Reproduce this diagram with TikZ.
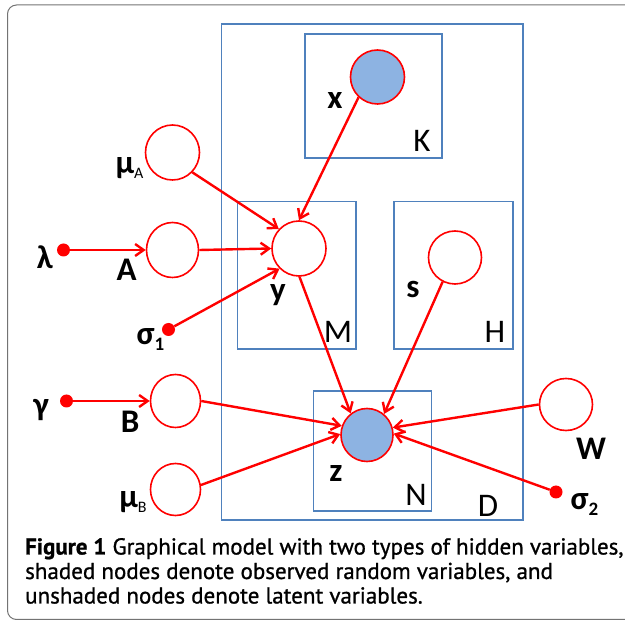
\documentclass[tikz,border=0pt]{standalone}
\usepackage{fontspec}
\setmainfont{Carlito}
\newfontfamily\capfont{PT Sans}[FakeBold=0.9]
\usetikzlibrary{shapes.geometric,arrows.meta}
\definecolor{plateblue}{RGB}{79,129,189}
\definecolor{obsfill}{RGB}{141,179,226}
\definecolor{framegray}{RGB}{115,115,115}
\begin{document}
\begin{tikzpicture}[x=1pt,y=-1pt,
  plate/.style={draw=plateblue,line width=1.6pt},
  rv/.style={ellipse,draw=red,line width=1.6pt,fill=white,inner sep=0pt},
  obs/.style={rv,fill=obsfill},
  hyper/.style={circle,fill=red,inner sep=0pt,minimum size=13pt},
  edge/.style={draw=red,line width=2.4pt,-{Straight Barb[length=8.5pt,width=12pt]}},
  lab/.style={inner sep=0pt,font=\fontsize{33}{33}\selectfont\bfseries},
  platelab/.style={inner sep=0pt,font=\fontsize{33}{33}\selectfont},
  capline/.style={inner sep=0pt,anchor=base west,font=\capfont\fontsize{23}{23}\selectfont},
]
\useasboundingbox (0,0) rectangle (625,620);
\clip (0,0) rectangle (625,620);

% outer figure frame
\draw[framegray,line width=1pt,rounded corners=9pt] (7.5,5) rectangle (680,619.5);

% plates
\draw[plate] (221.5,24) rectangle (523,520);
\draw[plate] (305,34) rectangle (442,158);
\draw[plate] (237.5,201.5) rectangle (356,349);
\draw[plate] (394,201.5) rectangle (513,349);
\draw[plate] (313.5,391) rectangle (431.5,511);

% random variables
\node[obs,minimum width=54pt,minimum height=54pt] (x) at (377.5,77) {};
\node[rv,minimum width=54pt,minimum height=55pt] (muA) at (172.5,152.5) {};
\node[rv,minimum width=52pt,minimum height=55pt] (A) at (172.5,250) {};
\node[rv,minimum width=54pt,minimum height=55pt] (y) at (299,248.5) {};
\node[rv,minimum width=53pt,minimum height=53pt] (s) at (455,257.5) {};
\node[rv,minimum width=50pt,minimum height=53pt] (B) at (175.5,401) {};
\node[rv,minimum width=50pt,minimum height=52pt] (muB) at (175.5,489.5) {};
\node[obs,minimum width=52pt,minimum height=53pt] (z) at (367,435) {};
\node[rv,minimum width=53pt,minimum height=52pt] (W) at (566,404.5) {};

% fixed hyperparameters
\node[hyper] (lam) at (63.5,250) {};
\node[hyper] (sig1) at (168.5,329.5) {};
\node[hyper] (gam) at (66.5,401) {};
\node[hyper] (sig2) at (556,492) {};

% labels
\node[lab] (lx) at (335,101) {x};
\node[lab] (ly) at (278,295) {y};
\node[lab] (ls) at (413,289) {s};
\node[lab] (lz) at (336,473.5) {z};
\node[lab] (lA) at (126.5,270) {A};
\node[lab] (lB) at (130,422) {B};
\node[lab] (lW) at (591,449) {W};
\node[lab] (llam) at (45,257) {λ};
\node[lab] (lgam) at (41,410) {γ};
\node[lab] (lmuA) at (129.5,168) {μ\raisebox{-5pt}{\fontsize{16}{16}\selectfont\mdseries A}};
\node[lab] (lmuB) at (133,502) {μ\raisebox{-5pt}{\fontsize{16}{16}\selectfont\mdseries B}};
\node[lab] (lsig1) at (150.5,340) {σ\raisebox{-6pt}{\fontsize{19}{19}\selectfont 1}};
\node[lab] (lsig2) at (584.5,504.5) {σ\raisebox{-6pt}{\fontsize{19}{19}\selectfont 2}};
\node[platelab] (lK) at (422,140.5) {K};
\node[platelab] (lM) at (338,331.5) {M};
\node[platelab] (lH) at (495,331.5) {H};
\node[platelab] (lN) at (416,494.5) {N};
\node[platelab] (lD) at (488,505.5) {D};

% dependencies
\draw[edge] (lam) -- (A.west);
\draw[edge] (gam) -- (B.west);
\draw[edge] (x.227) -- (y.90);
\draw[edge] (muA.315) -- (y.136);
\draw[edge] (A.east) -- (y.west);
\draw[edge] (sig1) -- (y.226);
\draw[edge] (y.271) -- (z.127);
\draw[edge] (s.243) -- (z.51);
\draw[edge] (B.east) -- (z.160);
\draw[edge] (muB.10) -- (z.178);
\draw[edge] (W.west) -- (z.16);
\draw[edge] (sig2) -- (z.3);

% caption
\node[capline] (cap1) at (25,554.5) {\textbf{Figure 1} Graphical model with two types of hidden variables,};
\node[capline] (cap2) at (25,579) {shaded nodes denote observed random variables, and};
\node[capline] (cap3) at (25,603.5) {unshaded nodes denote latent variables.};
\end{tikzpicture}
\end{document}
